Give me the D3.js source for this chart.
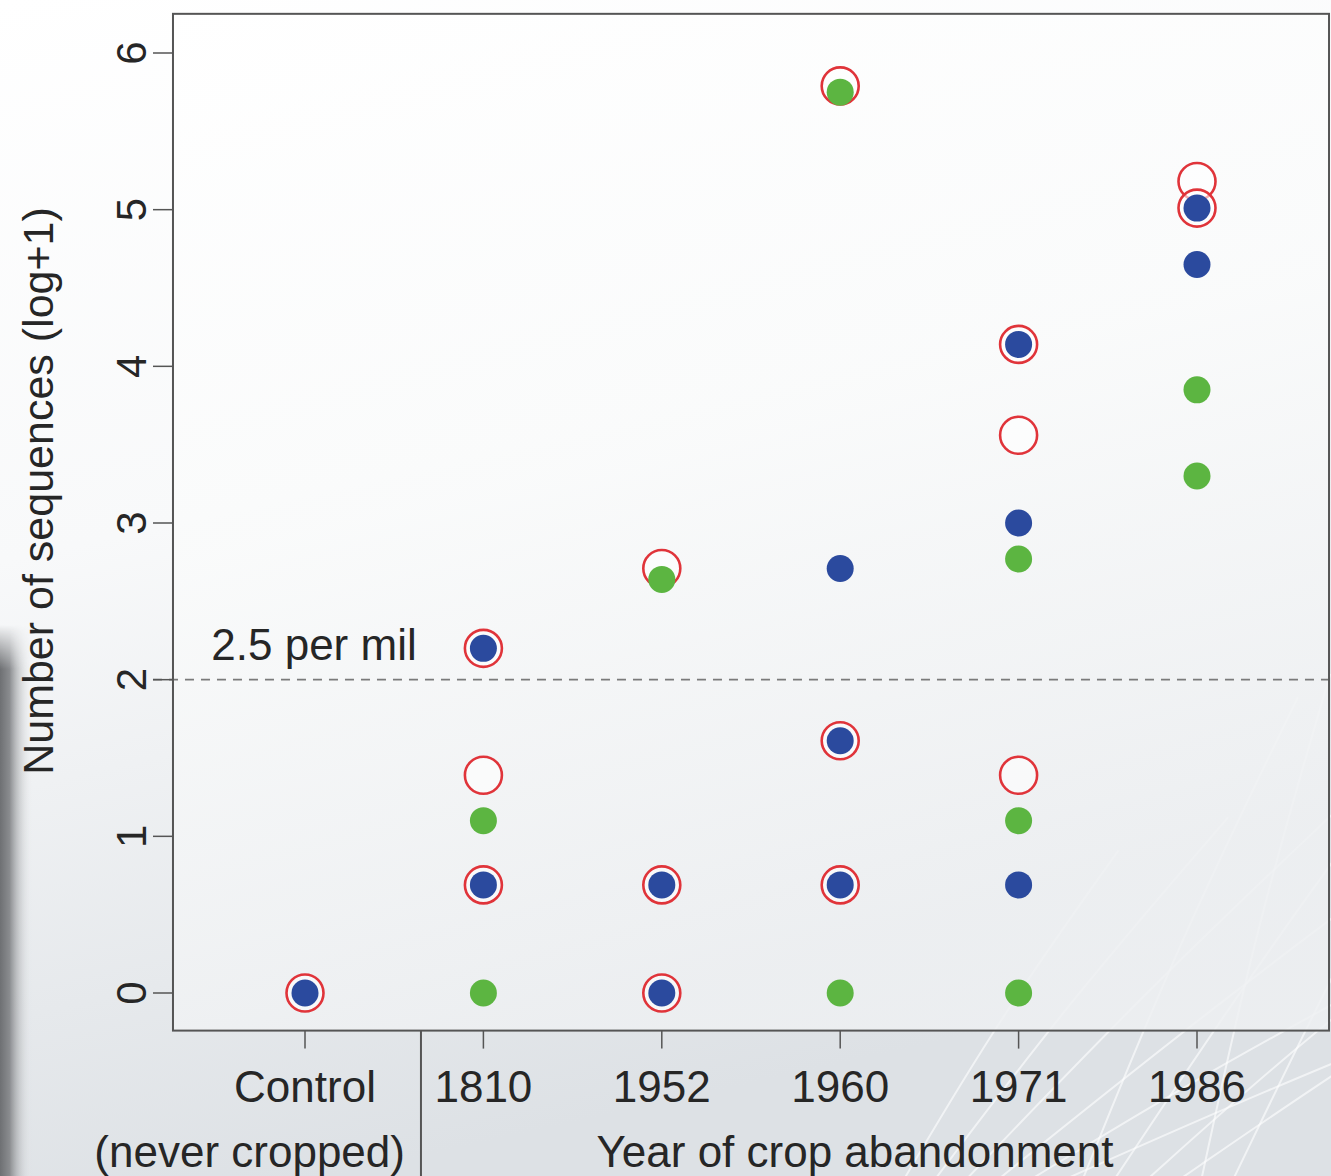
<!DOCTYPE html>
<html>
<head>
<meta charset="utf-8">
<script src="https://cdn.jsdelivr.net/npm/d3@7"></script>
<style>
  body { margin: 0; padding: 0; background: #fff; }
  svg text { font-family: "Liberation Sans", Arial, Helvetica, sans-serif; fill: #262626; }
</style>
</head>
<body>
<svg id="chart"></svg>
<script>
// Categories along the x axis
var categories = ["Control", "1810", "1952", "1960", "1971", "1986"];
var yTicks = [0, 1, 2, 3, 4, 5, 6];

// Values (log+1 of sequence counts), one list per category
var blueVals  = [[0], [2.20, 0.69], [0.69, 0], [2.71, 1.61, 0.69], [4.14, 3.00, 0.69], [5.01, 4.65]];
var greenVals = [[], [1.10, 0], [2.64], [5.75, 0], [2.77, 1.10, 0], [3.85, 3.30]];
var redVals   = [[0], [2.20, 1.39, 0.69], [2.71, 0.69, 0], [5.79, 1.61, 0.69], [4.14, 3.56, 1.39], [5.18, 5.01]];

var threshold = 2;   // 2.5 per mil line

var W = 1331, H = 1176;

var svg = d3.select("#chart")
  .attr("width", W)
  .attr("height", H);

// scales (category index 1..6)
var x = d3.scaleLinear().domain([1, 6]).range([305, 1197]);
var y = d3.scaleLinear().domain([0, 6]).range([993, 53]);

var xlim = [0.26, 6.74], ylim = [-0.24, 6.25];

// background gradients
var defs = svg.append("defs");
var bg = defs.append("linearGradient").attr("id", "bg")
  .attr("x1", 0).attr("y1", 0).attr("x2", 0.25).attr("y2", 1);
bg.append("stop").attr("offset", "0%").attr("stop-color", "#ffffff");
bg.append("stop").attr("offset", "45%").attr("stop-color", "#f8f9fa");
bg.append("stop").attr("offset", "100%").attr("stop-color", "#dde1e5");

var panelBg = defs.append("linearGradient").attr("id", "panelBg")
  .attr("x1", 0).attr("y1", 0).attr("x2", 0.3).attr("y2", 1);
panelBg.append("stop").attr("offset", "0%").attr("stop-color", "#ffffff");
panelBg.append("stop").attr("offset", "50%").attr("stop-color", "#fafbfb");
panelBg.append("stop").attr("offset", "100%").attr("stop-color", "#eef0f2");

var shade = defs.append("linearGradient").attr("id", "shade")
  .attr("x1", 0).attr("y1", 0).attr("x2", 1).attr("y2", 0);
shade.append("stop").attr("offset", "0%").attr("stop-color", "#6e7073");
shade.append("stop").attr("offset", "30%").attr("stop-color", "#8a8c8f");
shade.append("stop").attr("offset", "100%").attr("stop-color", "#e9ebed").attr("stop-opacity", 0);

var fadeTop = defs.append("linearGradient").attr("id", "fadeTop")
  .attr("x1", 0).attr("y1", 0).attr("x2", 0).attr("y2", 1);
fadeTop.append("stop").attr("offset", "0%").attr("stop-color", "#fff").attr("stop-opacity", 0);
fadeTop.append("stop").attr("offset", "8%").attr("stop-color", "#fff").attr("stop-opacity", 1);
fadeTop.append("stop").attr("offset", "100%").attr("stop-color", "#fff").attr("stop-opacity", 1);
defs.append("mask").attr("id", "stripMask")
  .append("rect").attr("x", 0).attr("y", 625).attr("width", 40).attr("height", H - 625)
  .attr("fill", "url(#fadeTop)");

svg.append("rect").attr("width", W).attr("height", H).attr("fill", "url(#bg)");

// dark strip on the left edge
svg.append("rect")
  .attr("x", 0).attr("y", 625).attr("width", 32).attr("height", H - 625)
  .attr("fill", "url(#shade)")
  .attr("mask", "url(#stripMask)");

// faint reeds in the lower right
var reeds = svg.append("g").attr("stroke", "#ffffff").attr("fill", "none")
  .attr("stroke-opacity", 0.6).attr("stroke-width", 2);
var reedAngles = [-62, -55, -48, -40, -33, -25, -70, -58, -44, -36, -80, -66];
reedAngles.forEach(function(a, i) {
  var x0 = 900 + i * 30, y0 = H + 10;
  var len = 380 + (i % 4) * 70;
  var rad = a * Math.PI / 180;
  reeds.append("path")
    .attr("d", d3.line().curve(d3.curveBasis)([
      [x0, y0],
      [x0 + Math.cos(rad) * len * 0.5 + 10, y0 + Math.sin(rad) * len * 0.5],
      [x0 + Math.cos(rad) * len + 40, y0 + Math.sin(rad) * len]
    ]));
});

// plot panel
var px0 = x(xlim[0]), px1 = x(xlim[1]), py0 = y(ylim[1]), py1 = y(ylim[0]);
svg.append("rect")
  .attr("x", px0).attr("y", py0)
  .attr("width", px1 - px0).attr("height", py1 - py0)
  .attr("fill", "url(#panelBg)").attr("fill-opacity", 0.85);

// threshold dashed line
svg.append("line")
  .attr("x1", px0 - 20).attr("x2", W)
  .attr("y1", y(threshold)).attr("y2", y(threshold))
  .attr("stroke", "#7a7a7a").attr("stroke-width", 1.6)
  .attr("stroke-dasharray", "9,7");

svg.append("text")
  .attr("x", 314).attr("y", 660)
  .attr("text-anchor", "middle")
  .style("font-size", "44px")
  .text("2.5 per mil");

// panel border
svg.append("rect")
  .attr("x", px0).attr("y", py0)
  .attr("width", px1 - px0).attr("height", py1 - py0)
  .attr("fill", "none").attr("stroke", "#555").attr("stroke-width", 2);

// y axis ticks and labels (R style, rotated)
var yAxis = svg.append("g");
yAxis.selectAll("line").data(yTicks).enter().append("line")
  .attr("x1", px0 - 20).attr("x2", px0)
  .attr("y1", function(d) { return y(d); })
  .attr("y2", function(d) { return y(d); })
  .attr("stroke", "#555").attr("stroke-width", 1.5);
yAxis.selectAll("text").data(yTicks).enter().append("text")
  .attr("transform", function(d) { return "translate(" + 146 + "," + y(d) + ") rotate(-90)"; })
  .attr("text-anchor", "middle")
  .style("font-size", "42px")
  .text(function(d) { return d; });

svg.append("text")
  .attr("transform", "translate(53," + 491 + ") rotate(-90)")
  .attr("text-anchor", "middle")
  .style("font-size", "43px")
  .text("Number of sequences (log+1)");

// x axis ticks and labels
var xAxis = svg.append("g");
xAxis.selectAll("line").data(categories).enter().append("line")
  .attr("x1", function(d, i) { return x(i + 1); })
  .attr("x2", function(d, i) { return x(i + 1); })
  .attr("y1", py1).attr("y2", py1 + 18)
  .attr("stroke", "#555").attr("stroke-width", 1.5);
xAxis.selectAll("text").data(categories).enter().append("text")
  .attr("x", function(d, i) { return x(i + 1); })
  .attr("y", 1102)
  .attr("text-anchor", "middle")
  .style("font-size", "44px")
  .text(function(d) { return d; });

// separator between control and treatment years
svg.append("line")
  .attr("x1", x(1.65)).attr("x2", x(1.65))
  .attr("y1", py1).attr("y2", H)
  .attr("stroke", "#555").attr("stroke-width", 2);

svg.append("text")
  .attr("x", x(1.65) - 16).attr("y", 1167)
  .attr("text-anchor", "end")
  .style("font-size", "44px")
  .text("(never cropped)");

svg.append("text")
  .attr("x", 855).attr("y", 1167)
  .attr("text-anchor", "middle")
  .style("font-size", "44px")
  .text("Year of crop abandonment");

// flatten per-category lists into points
function points(vals) {
  var out = [];
  vals.forEach(function(list, i) {
    list.forEach(function(v) { out.push({ i: i + 1, v: v }); });
  });
  return out;
}

var dots = svg.append("g");

dots.selectAll("circle.red").data(points(redVals)).enter().append("circle")
  .attr("class", "red")
  .attr("cx", function(d) { return x(d.i); })
  .attr("cy", function(d) { return y(d.v); })
  .attr("r", 18.5)
  .attr("fill", "#ffffff").attr("fill-opacity", 0.6)
  .attr("stroke", "#e0343a").attr("stroke-width", 2.6);

dots.selectAll("circle.green").data(points(greenVals)).enter().append("circle")
  .attr("class", "green")
  .attr("cx", function(d) { return x(d.i); })
  .attr("cy", function(d) { return y(d.v); })
  .attr("r", 13.5)
  .attr("fill", "#5cb541");

dots.selectAll("circle.blue").data(points(blueVals)).enter().append("circle")
  .attr("class", "blue")
  .attr("cx", function(d) { return x(d.i); })
  .attr("cy", function(d) { return y(d.v); })
  .attr("r", 13.5)
  .attr("fill", "#2b4a9e");
</script>
</body>
</html>
